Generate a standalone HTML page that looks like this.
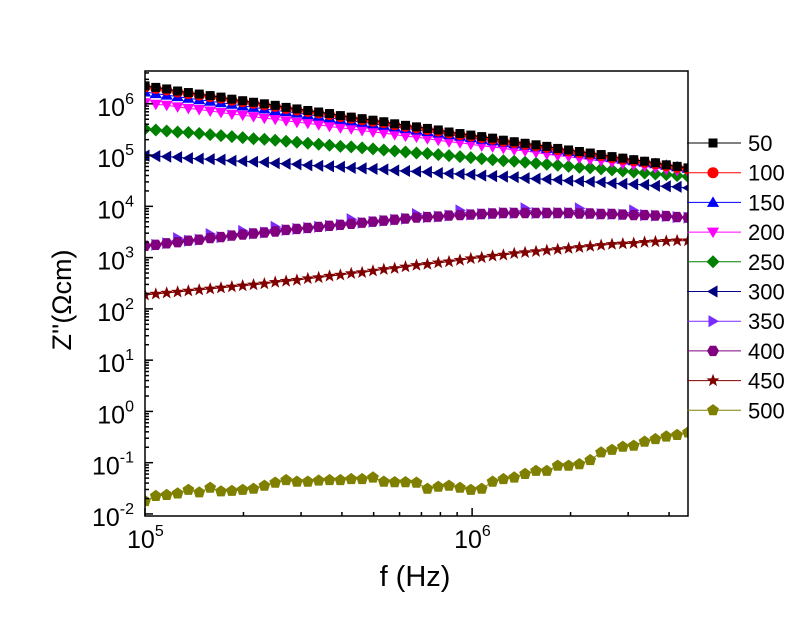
<!DOCTYPE html>
<html><head><meta charset="utf-8"><style>
html,body{margin:0;padding:0;background:#fff;}
svg{display:block;font-family:"Liberation Sans",sans-serif;}
</style></head><body>
<svg id="chart" width="800" height="617" viewBox="0 0 800 617" xmlns="http://www.w3.org/2000/svg">
<rect x="0" y="0" width="800" height="617" fill="#fff"/>
<g id="marks"></g>
<g id="axes"></g>
<g id="legend"></g>
<text x="415" y="586" font-size="29" text-anchor="middle">f (Hz)</text>
<text transform="translate(71,300) rotate(-90)" font-size="27" text-anchor="middle">Z''(Ωcm)</text>
</svg>
<script>
const freqs=[100000,107900,116500,125800,135700,146500,158200,170700,184300,198900,214700,231700,250100,270000,291400,314600,339600,366500,395600,427000,461000,497600,537100,579700,625700,676000,730000,788000,850000,918000,991000,1070000,1155000,1246000,1345000,1452000,1568000,1692000,1827000,1972000,2128000,2297000,2480000,2677000,2889000,3119000,3367000,3634000,3923000,4234000,4571000];
const temps=["50","100","150","200","250","300","350","400","450","500"];
// log10 of Z'' per series
const s50=[6.35,6.32,6.29,6.25,6.22,6.19,6.16,6.13,6.09,6.06,6.03,6.00,5.97,5.93,5.90,5.87,5.84,5.81,5.77,5.74,5.71,5.68,5.65,5.61,5.58,5.55,5.52,5.49,5.45,5.42,5.39,5.36,5.33,5.29,5.26,5.23,5.20,5.17,5.13,5.10,5.07,5.04,5.01,4.97,4.94,4.91,4.88,4.85,4.81,4.78,4.75];
const s100=[6.33,6.30,6.27,6.23,6.20,6.17,6.14,6.11,6.07,6.04,6.01,5.98,5.95,5.91,5.88,5.85,5.82,5.79,5.75,5.72,5.69,5.66,5.63,5.59,5.56,5.53,5.50,5.47,5.43,5.40,5.37,5.34,5.31,5.27,5.24,5.21,5.18,5.15,5.11,5.08,5.05,5.02,4.99,4.95,4.92,4.89,4.86,4.83,4.79,4.76,4.73];
const s150=[6.23,6.20,6.17,6.14,6.11,6.08,6.05,6.02,5.99,5.96,5.93,5.90,5.87,5.85,5.82,5.79,5.76,5.73,5.70,5.67,5.64,5.61,5.58,5.55,5.52,5.49,5.46,5.43,5.40,5.37,5.34,5.31,5.28,5.25,5.22,5.19,5.16,5.13,5.10,5.07,5.04,5.01,4.98,4.95,4.92,4.89,4.86,4.83,4.80,4.77,4.74];
const s200=[6.02,5.99,5.97,5.94,5.91,5.89,5.86,5.83,5.80,5.78,5.75,5.72,5.70,5.67,5.64,5.62,5.59,5.56,5.53,5.51,5.48,5.45,5.43,5.40,5.37,5.35,5.32,5.29,5.26,5.24,5.21,5.18,5.16,5.13,5.10,5.08,5.05,5.02,4.99,4.97,4.94,4.91,4.89,4.86,4.83,4.81,4.78,4.75,4.72,4.70,4.67];
const s250=[5.51,5.49,5.47,5.45,5.44,5.42,5.40,5.38,5.36,5.34,5.32,5.31,5.29,5.27,5.25,5.23,5.21,5.19,5.17,5.16,5.14,5.12,5.10,5.08,5.06,5.04,5.03,5.01,4.99,4.97,4.95,4.93,4.91,4.89,4.88,4.86,4.84,4.82,4.80,4.78,4.76,4.75,4.73,4.71,4.69,4.67,4.65,4.63,4.62,4.60,4.58];
const s300=[4.99,4.98,4.97,4.96,4.94,4.93,4.92,4.91,4.89,4.88,4.87,4.86,4.84,4.83,4.82,4.80,4.79,4.78,4.77,4.75,4.74,4.73,4.72,4.70,4.69,4.68,4.67,4.65,4.64,4.63,4.62,4.60,4.59,4.58,4.57,4.55,4.54,4.53,4.52,4.50,4.49,4.48,4.47,4.45,4.44,4.43,4.42,4.40,4.39,4.38,4.36];
const s350=[3.23,3.25,3.28,3.38,3.33,3.35,3.46,3.40,3.43,3.52,3.47,3.49,3.60,3.54,3.56,3.58,3.60,3.62,3.64,3.75,3.68,3.70,3.72,3.74,3.76,3.85,3.79,3.80,3.82,3.92,3.84,3.85,3.86,3.87,3.87,3.96,3.87,3.87,3.87,3.87,3.96,3.86,3.85,3.85,3.84,3.92,3.83,3.82,3.81,3.79,3.78];
const s400=[3.23,3.25,3.28,3.30,3.33,3.35,3.38,3.40,3.43,3.45,3.47,3.49,3.51,3.54,3.56,3.58,3.60,3.62,3.64,3.66,3.68,3.70,3.72,3.74,3.76,3.78,3.79,3.80,3.82,3.83,3.84,3.85,3.86,3.87,3.87,3.87,3.87,3.87,3.87,3.87,3.86,3.86,3.85,3.85,3.84,3.83,3.83,3.82,3.81,3.79,3.78];
const s450=[2.27,2.29,2.31,2.33,2.35,2.37,2.39,2.41,2.43,2.45,2.47,2.49,2.52,2.54,2.56,2.59,2.61,2.64,2.66,2.69,2.71,2.74,2.77,2.79,2.82,2.85,2.87,2.90,2.92,2.95,2.98,3.00,3.03,3.05,3.08,3.10,3.12,3.14,3.16,3.18,3.20,3.22,3.24,3.26,3.27,3.28,3.30,3.31,3.32,3.33,3.33];
const s500=[-1.75,-1.65,-1.63,-1.60,-1.53,-1.58,-1.49,-1.56,-1.55,-1.53,-1.51,-1.45,-1.39,-1.34,-1.37,-1.37,-1.35,-1.34,-1.34,-1.32,-1.32,-1.29,-1.37,-1.38,-1.38,-1.39,-1.51,-1.47,-1.45,-1.49,-1.53,-1.51,-1.37,-1.32,-1.29,-1.22,-1.16,-1.16,-1.06,-1.06,-1.03,-0.95,-0.80,-0.75,-0.69,-0.67,-0.59,-0.54,-0.49,-0.46,-0.41];
const series=[s50,s100,s150,s200,s250,s300,s350,s400,s450,s500];
const colors=["#000000","#ff0000","#0000ff","#ff00ff","#008000","#000080","#7b2cff","#800080","#800000","#808000"];
const shapes=["square","circle","up","down","diamond","left","right","hex","star","pent"];
const xTickVals=[5,6];
const yTickVals=[-2,-1,0,1,2,3,4,5,6];

const X0=145,X1=688,Y0=71,Y1=516;
const xmin=5,xmax=6.66,ymin=-2.04,ymax=6.64;
function xs(f){return X0+(Math.log10(f)-xmin)/(xmax-xmin)*(X1-X0);}
function xl(l){return X0+(l-xmin)/(xmax-xmin)*(X1-X0);}
function ys(l){return Y1-(l-ymin)/(ymax-ymin)*(Y1-Y0);}
const NS="http://www.w3.org/2000/svg";
function mk(t,a,p){const e=document.createElementNS(NS,t);for(const k in a)e.setAttribute(k,a[k]);p.appendChild(e);return e;}
function poly(n,r,rot,cx,cy){let p=[];for(let i=0;i<n;i++){const a=rot+i*2*Math.PI/n;p.push((cx+r*Math.cos(a)).toFixed(1)+","+(cy+r*Math.sin(a)).toFixed(1));}return p.join(" ");}
function marker(shape,cx,cy,col,p){
  let e;
  if(shape==="square")e=mk("rect",{x:cx-4.5,y:cy-4.5,width:9,height:9,fill:col},p);
  else if(shape==="circle")e=mk("circle",{cx:cx,cy:cy,r:5.5,fill:col},p);
  else if(shape==="up")e=mk("polygon",{points:poly(3,7,-Math.PI/2,cx,cy+1),fill:col},p);
  else if(shape==="down")e=mk("polygon",{points:poly(3,7,Math.PI/2,cx,cy-1),fill:col},p);
  else if(shape==="left")e=mk("polygon",{points:poly(3,7,Math.PI,cx+1,cy),fill:col},p);
  else if(shape==="right")e=mk("polygon",{points:poly(3,7,0,cx-1,cy),fill:col},p);
  else if(shape==="diamond")e=mk("polygon",{points:poly(4,6.5,0,cx,cy),fill:col},p);
  else if(shape==="hex")e=mk("polygon",{points:poly(6,6,0,cx,cy),fill:col},p);
  else if(shape==="pent")e=mk("polygon",{points:poly(5,6.2,-Math.PI/2,cx,cy),fill:col},p);
  else {let pts=[];for(let i=0;i<10;i++){const r=i%2?2.8:6.8;const a=-Math.PI/2+i*Math.PI/5;pts.push((cx+r*Math.cos(a)).toFixed(1)+","+(cy+r*Math.sin(a)).toFixed(1));}e=mk("polygon",{points:pts.join(" "),fill:col},p);}
  return e;
}
const marks=document.getElementById("marks");
const clip=mk("clipPath",{id:"pc"},marks);mk("rect",{x:X0,y:Y0,width:X1-X0,height:Y1-Y0},clip);
const order=[9,8,6,7,5,4,3,2,1,0];
order.forEach(si=>{
  const g=mk("g",{"clip-path":"url(#pc)"},marks);
  
  
  const vals=series[si];
  const d=vals.map((v,i)=>(i?"L":"M")+xs(freqs[i]).toFixed(1)+","+ys(v).toFixed(1)).join("");
  const ln=mk("path",{d:d,fill:"none",stroke:colors[si],"stroke-width":1},g);
  
  
  vals.forEach((v,i)=>{
    const m=marker(shapes[si],xs(freqs[i]),ys(v),colors[si],g);
    
    
  });
});
const ax=document.getElementById("axes");
const fr=mk("rect",{x:X0,y:Y0,width:X1-X0,height:Y1-Y0,fill:"none",stroke:"#000","stroke-width":1.5},ax);


for(let d=5;d<=6;d++){for(let k=1;k<10;k++){const l=d+Math.log10(k);if(l>xmax)break;const x=xl(l);const len=k===1?8:4;mk("line",{x1:x,y1:Y1,x2:x,y2:Y1-len,stroke:"#000","stroke-width":1.5},ax);}}
xTickVals.forEach(v=>{const t=mk("text",{x:xl(v)-18,y:548,"font-size":25},ax);t.innerHTML='10<tspan font-size="16" dy="-12">'+v+'</tspan>';});
for(let d=-2;d<=6;d++){for(let k=1;k<10;k++){const l=d+Math.log10(k);if(l>ymax)break;const y=ys(l);const len=k===1?8:4;mk("line",{x1:X0,y1:y,x2:X0+len,y2:y,stroke:"#000","stroke-width":1.5},ax);}}
yTickVals.forEach(v=>{const t=mk("text",{x:134,y:ys(v)+12,"font-size":25,"text-anchor":"end"},ax);t.innerHTML='10<tspan font-size="16" dy="-12">'+v+'</tspan>';});
const lg=document.getElementById("legend");
temps.forEach((tp,i)=>{
  const y=143+i*29.7;
  const g=mk("g",{},lg);
  
  
  mk("line",{x1:687,y1:y,x2:741,y2:y,stroke:colors[i],"stroke-width":1},g);
  marker(shapes[i],713,y,colors[i],g);
  const t=mk("text",{x:748,y:y+8,"font-size":22},g);
  t.textContent=tp;
});
</script>
</body></html>
